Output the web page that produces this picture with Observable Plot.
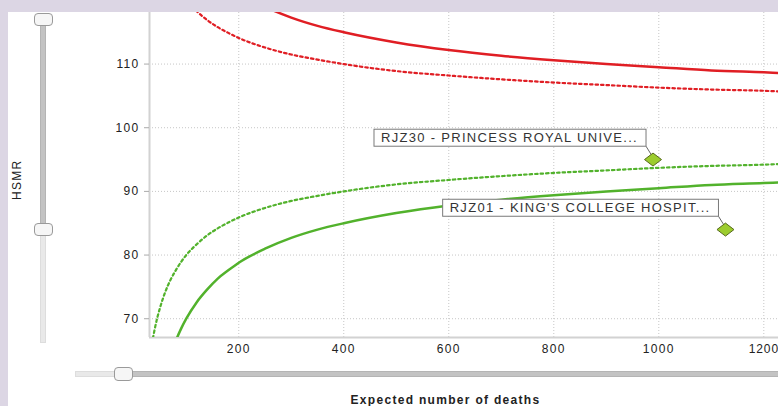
<!DOCTYPE html>
<html>
<head>
<meta charset="utf-8">
<script src="https://cdn.jsdelivr.net/npm/d3@7"></script>
<script src="https://cdn.jsdelivr.net/npm/@observablehq/plot@0.6"></script>
<style>
html, body { margin: 0; padding: 0; }
body { width: 778px; height: 406px; overflow: hidden; background: #dcd6e4; position: relative; font-family: "Liberation Sans", Arial, sans-serif; }
#panel { position: absolute; left: 8px; top: 12px; width: 770px; height: 394px; background: #ffffff; }
#chart { position: absolute; left: 8px; top: 12px; width: 770px; height: 394px; }
#chart svg text { letter-spacing: 1.3px; }
#chart g[aria-label="hospital label"] text { letter-spacing: 1.35px; }
#chart g[aria-label="x title"] text { letter-spacing: 1.1px; }
#chart g[aria-label="y title"] text { letter-spacing: 0.2px; }
.sl { position: absolute; box-sizing: border-box; }
.track-dark { background: #c3c3c3; border: 1px solid #b4b4b4; }
.track-light { background: #e9e9e9; border: 1px solid #dddddd; }
.handle { background: #f6f6f6; border: 1px solid #9a9a9a; border-radius: 4px; }
</style>
</head>
<body>
<div id="panel"></div>
<div id="chart"></div>
<!-- vertical slider -->
<div class="sl track-dark" style="left:40px;top:20px;width:6px;height:210px;"></div>
<div class="sl track-light" style="left:40px;top:229px;width:6px;height:114px;"></div>
<div class="sl handle" style="left:34px;top:13px;width:19px;height:13px;"></div>
<div class="sl handle" style="left:34px;top:223px;width:19px;height:13px;"></div>
<!-- horizontal slider -->
<div class="sl track-light" style="left:75px;top:371px;width:50px;height:6px;"></div>
<div class="sl track-dark" style="left:124px;top:371px;width:660px;height:6px;"></div>
<div class="sl handle" style="left:114px;top:367px;width:19px;height:14px;"></div>
<script>
// ---- data ----
const expected = [30, 35, 40, 45, 50, 60, 70, 80, 90, 100, 120, 140, 160, 180, 200, 250, 300, 350, 400, 500, 600, 700, 800, 900, 1000, 1100, 1200, 1230];
const upper3sd = [154.8, 150.7, 147.4, 144.7, 142.4, 138.7, 135.9, 133.5, 131.6, 130.0, 127.4, 125.4, 123.7, 122.4, 121.2, 119.0, 117.3, 116.0, 115.0, 113.4, 112.2, 111.3, 110.6, 110.0, 109.5, 109.0, 108.7, 108.6];
const upper2sd = [136.5, 133.8, 131.6, 129.8, 128.3, 125.8, 123.9, 122.4, 121.1, 120.0, 118.3, 116.9, 115.8, 114.9, 114.1, 112.6, 111.5, 110.7, 110.0, 108.9, 108.2, 107.6, 107.1, 106.7, 106.3, 106.0, 105.8, 105.7];
const lower2sd = [63.5, 66.2, 68.4, 70.2, 71.7, 74.2, 76.1, 77.6, 78.9, 80.0, 81.7, 83.1, 84.2, 85.1, 85.9, 87.4, 88.5, 89.3, 90.0, 91.1, 91.8, 92.4, 92.9, 93.3, 93.7, 94.0, 94.2, 94.3];
const lower3sd = [45.2, 49.3, 52.6, 55.3, 57.6, 61.3, 64.1, 66.5, 68.4, 70.0, 72.6, 74.6, 76.3, 77.6, 78.8, 81.0, 82.7, 84.0, 85.0, 86.6, 87.8, 88.7, 89.4, 90.0, 90.5, 91.0, 91.3, 91.4];

const hospitals = ["RJZ30 - PRINCESS ROYAL UNIVE...", "RJZ01 - KING'S COLLEGE HOSPIT..."];
const hospExpected = [989, 1127];
const hospHSMR = [95.0, 84.0];

const xTicks = [200, 400, 600, 800, 1000, 1200];
const yTicks = [70, 80, 90, 100, 110];
const xDomain = [30, 1228];
const yDomain = [67.05, 118.1];
const xTitle = ["Expected number of deaths"];
const yTitle = ["HSMR"];

const red = "#e01e24";
const green = "#52b22c";

const wideDiamond = {
  draw(context) {
    context.moveTo(0, -6.5);
    context.lineTo(8.5, 0);
    context.lineTo(0, 6.5);
    context.lineTo(-8.5, 0);
    context.closePath();
  }
};

const plot = Plot.plot({
  width: 770,
  height: 394,
  marginLeft: 141,
  marginRight: 0,
  marginTop: 0,
  marginBottom: 69,
  style: { fontFamily: "'Liberation Sans', Arial, sans-serif", fontSize: "12px", background: "transparent", overflow: "visible" },
  x: { domain: xDomain },
  y: { domain: yDomain },
  marks: [
    Plot.gridX(xTicks, { stroke: "#c6c6c6", strokeOpacity: 1, strokeDasharray: "1,2" }),
    Plot.gridY(yTicks, { stroke: "#c6c6c6", strokeOpacity: 1, strokeDasharray: "1,2" }),
    Plot.ruleX([xDomain[0]], { stroke: "#d2d2d2", strokeWidth: 2 }),
    Plot.ruleY([yDomain[0]], { stroke: "#d2d2d2", strokeWidth: 2 }),
    Plot.axisY(yTicks, { tickSize: 5, tickPadding: 5, stroke: "#aaaaaa", fill: "#222", fontSize: 12, label: null, tickFormat: d => String(d) }),
    Plot.axisX(xTicks, { tickSize: 0, tickPadding: 7, fill: "#222", fontSize: 12, label: null, tickFormat: d => String(d) }),
    Plot.line(expected, { x: d => d, y: (d, i) => lower2sd[i], stroke: green, strokeWidth: 2.2, strokeDasharray: "2.5,3", curve: "monotone-x", clip: true }),
    Plot.line(expected, { x: d => d, y: (d, i) => upper2sd[i], stroke: red, strokeWidth: 2.2, strokeDasharray: "2.5,3", curve: "monotone-x", clip: true }),
    Plot.line(expected, { x: d => d, y: (d, i) => lower3sd[i], stroke: green, strokeWidth: 2.5, curve: "monotone-x", clip: true }),
    Plot.line(expected, { x: d => d, y: (d, i) => upper3sd[i], stroke: red, strokeWidth: 2.5, curve: "monotone-x", clip: true }),
    Plot.text(hospitals, { x: (d, i) => hospExpected[i], y: (d, i) => hospHSMR[i], text: d => d, textAnchor: "end", dx: -15, dy: -21.5, fill: "#333", fontSize: 13, ariaLabel: "hospital label" }),
    Plot.dot(hospitals, { x: (d, i) => hospExpected[i], y: (d, i) => hospHSMR[i], symbol: wideDiamond, fill: "#9ccc2e", stroke: "#56691c", strokeWidth: 1 }),
    Plot.text(xTitle, { text: d => d, frameAnchor: "bottom", dx: -18.5, dy: 66, fontWeight: "bold", fontSize: 12, fill: "#222", ariaLabel: "x title" }),
    Plot.text(yTitle, { text: d => d, frameAnchor: "left", rotate: -90, dx: -132.5, dy: 25, fontSize: 12, fill: "#222", ariaLabel: "y title" })
  ]
});

document.getElementById("chart").append(plot);

// shrink letter spacing of the last x tick so it fits at the right edge
Array.from(plot.querySelectorAll("text")).forEach(t => {
  if (t.textContent === "1200") t.style.letterSpacing = "0.9px";
});

// label boxes and leader lines
const ns = "http://www.w3.org/2000/svg";
const sx = plot.scale("x"), sy = plot.scale("y");
const sr = plot.getBoundingClientRect();
const labelTexts = Array.from(plot.querySelectorAll("text")).filter(t => hospitals.includes(t.textContent));
if (labelTexts.length) {
  const labelG = labelTexts[0].parentNode;
  const boxG = document.createElementNS(ns, "g");
  labelG.parentNode.insertBefore(boxG, labelG);
  labelTexts.forEach(t => {
    const i = hospitals.indexOf(t.textContent);
    const r = t.getBoundingClientRect();
    const x0 = r.left - sr.left - 7, x1 = r.right - sr.left + 8;
    const y0 = r.top - sr.top - 1, y1 = r.bottom - sr.top + 1;
    const px = sx.apply(hospExpected[i]), py = sy.apply(hospHSMR[i]);
    const line = document.createElementNS(ns, "line");
    line.setAttribute("x1", x1); line.setAttribute("y1", y1);
    line.setAttribute("x2", px - 1); line.setAttribute("y2", py - 4);
    line.setAttribute("stroke", "#666"); line.setAttribute("stroke-width", "1");
    boxG.appendChild(line);
    const rect = document.createElementNS(ns, "rect");
    rect.setAttribute("x", x0); rect.setAttribute("y", y0);
    rect.setAttribute("width", x1 - x0); rect.setAttribute("height", y1 - y0);
    rect.setAttribute("fill", "#fff"); rect.setAttribute("stroke", "#7a7a7a"); rect.setAttribute("stroke-width", "1");
    boxG.appendChild(rect);
  });
}
</script>
</body>
</html>
